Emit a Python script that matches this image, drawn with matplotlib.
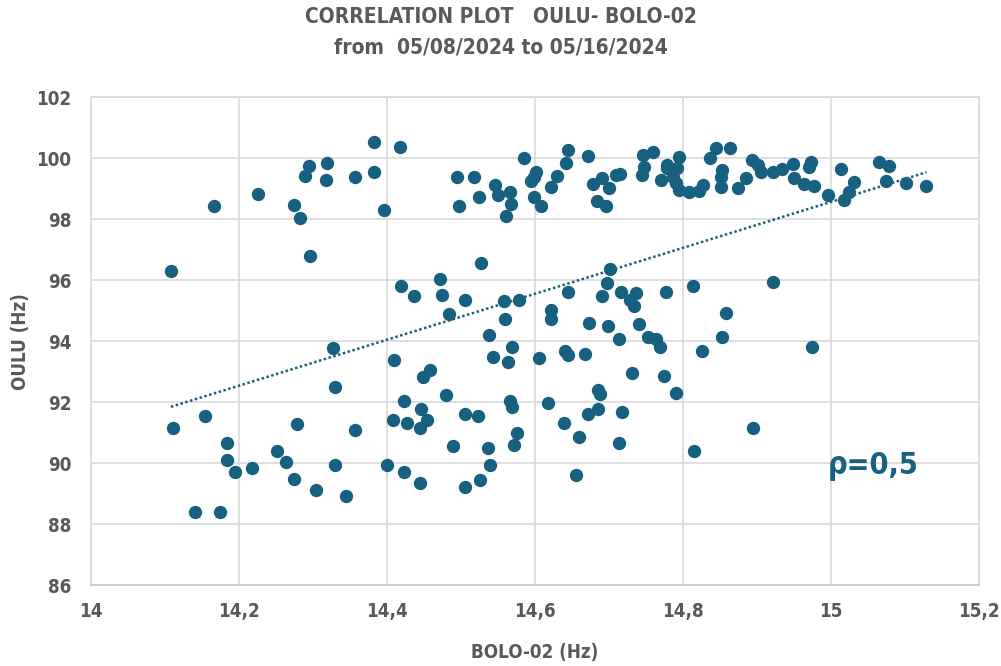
import numpy as np
import matplotlib
matplotlib.use("Agg")
import matplotlib.pyplot as plt
from matplotlib.ticker import FuncFormatter

# BOLO-02 frequency (Hz)
bolo = [
    14.108, 14.166, 14.226, 14.275, 14.282, 14.289, 14.294, 14.296, 14.317, 14.319,
    14.357, 14.382, 14.383, 14.396, 14.417, 14.494, 14.518, 14.497, 14.524, 14.546,
    14.550, 14.566, 14.567, 14.561, 14.585, 14.602, 14.598, 14.594, 14.599, 14.608,
    14.622, 14.630, 14.642, 14.645, 14.671, 14.679, 14.690, 14.700, 14.684, 14.696,
    14.709, 14.715, 14.746, 14.760, 14.747, 14.745, 14.778, 14.779, 14.794, 14.792,
    14.770, 14.787, 14.790, 14.794, 14.808, 14.821, 14.827, 14.837, 14.844, 14.863,
    14.853, 14.852, 14.852, 14.874, 14.885, 14.893, 14.902, 14.905, 14.922, 14.934,
    14.949, 14.950, 14.963, 14.977, 14.970, 14.973, 14.996, 15.013, 15.031, 15.025,
    15.017, 15.065, 15.078, 15.074, 15.102, 15.129, 14.527, 14.419, 14.436, 14.472,
    14.475, 14.484, 14.506, 14.558, 14.579, 14.559, 14.538, 14.621, 14.621, 14.644,
    14.673, 14.699, 14.691, 14.697, 14.702, 14.716, 14.737, 14.729, 14.734, 14.741,
    14.777, 14.714, 14.753, 14.763, 14.769, 14.813, 14.921, 14.858, 14.853, 14.826,
    14.975, 14.790, 14.894, 14.815, 14.569, 14.543, 14.564, 14.605, 14.409, 14.641,
    14.644, 14.668, 14.731, 14.775, 14.449, 14.458, 14.480, 14.423, 14.446, 14.454,
    14.445, 14.408, 14.427, 14.506, 14.523, 14.566, 14.569, 14.576, 14.571, 14.537,
    14.539, 14.489, 14.400, 14.423, 14.445, 14.506, 14.526, 14.617, 14.639, 14.659,
    14.671, 14.685, 14.685, 14.688, 14.718, 14.714, 14.656, 14.327, 14.330, 14.111,
    14.154, 14.184, 14.184, 14.195, 14.218, 14.252, 14.264, 14.275, 14.278, 14.304,
    14.330, 14.345, 14.357, 14.140, 14.174,
]

# OULU frequency (Hz)
oulu = [
    96.30, 98.43, 98.83, 98.46, 98.04, 99.41, 99.76, 96.81, 99.29, 99.84,
    99.38, 100.54, 99.55, 98.30, 100.38, 99.38, 99.38, 98.43, 98.72, 99.13,
    98.80, 98.90, 98.50, 98.12, 100.01, 99.56, 99.40, 99.24, 98.73, 98.42,
    99.05, 99.42, 99.84, 100.26, 100.09, 99.15, 99.34, 99.01, 98.60, 98.43,
    99.45, 99.48, 100.11, 100.22, 99.70, 99.45, 99.78, 99.67, 100.05, 99.67,
    99.29, 99.40, 99.18, 98.96, 98.90, 98.93, 99.12, 100.00, 100.33, 100.33,
    99.62, 99.40, 99.07, 99.02, 99.34, 99.94, 99.78, 99.56, 99.54, 99.64,
    99.80, 99.34, 99.15, 99.09, 99.72, 99.87, 98.80, 99.64, 99.23, 98.90,
    98.63, 99.87, 99.75, 99.27, 99.20, 99.08, 96.56, 95.80, 95.48, 96.05,
    95.52, 94.90, 95.34, 95.31, 95.35, 94.72, 94.21, 95.03, 94.72, 95.61,
    94.60, 94.51, 95.48, 95.92, 96.36, 95.61, 95.58, 95.35, 95.16, 94.56,
    95.61, 94.08, 94.14, 94.06, 93.82, 95.81, 95.93, 94.94, 94.15, 93.68,
    93.82, 92.32, 91.17, 90.41, 93.82, 93.48, 93.31, 93.44, 93.40, 93.68,
    93.55, 93.57, 92.95, 92.86, 92.84, 93.06, 92.24, 92.03, 91.78, 91.42,
    91.15, 91.42, 91.31, 91.61, 91.56, 92.04, 91.84, 90.98, 90.60, 90.49,
    89.94, 90.57, 89.95, 89.70, 89.36, 89.21, 89.45, 91.99, 91.31, 90.87,
    91.61, 91.78, 92.40, 92.27, 91.69, 90.66, 89.62, 93.77, 92.51, 91.15,
    91.56, 90.66, 90.11, 89.70, 89.84, 90.41, 90.03, 89.50, 91.28, 89.12,
    89.95, 88.93, 91.08, 88.41, 88.41,
]

x_ticks = [14.0, 14.2, 14.4, 14.6, 14.8, 15.0, 15.2]
y_ticks = [86, 88, 90, 92, 94, 96, 98, 100, 102]

dot_color = "#17607f"
text_gray = "#595959"
grid_gray = "#d9d9d9"

plt.rcParams["font.family"] = ["DejaVu Sans"]
plt.rcParams["font.stretch"] = "condensed"

x = np.array(bolo)
y = np.array(oulu)

fig = plt.figure(figsize=(10.01, 6.66), dpi=100)
ax = fig.add_axes([0.0909, 0.1212, 0.8871, 0.7327])

ax.scatter(x, y, s=92, color=dot_color, zorder=3, linewidths=0)

# linear trend line over the data range
slope, intercept = np.polyfit(x, y, 1)
xt = np.array([x.min(), x.max()])
ax.plot(xt, slope * xt + intercept, linestyle=(0, (1, 1)), color=dot_color,
        linewidth=1.8, zorder=2)

ax.set_xlim(14.0, 15.2)
ax.set_ylim(86, 102)
ax.set_xticks(x_ticks)
ax.set_yticks(y_ticks)
ax.xaxis.set_major_formatter(FuncFormatter(lambda v, p: f"{v:g}".replace(".", ",")))
ax.grid(True, color=grid_gray, linewidth=1.2, zorder=0)
ax.set_axisbelow(True)
for side in ["left", "right", "top"]:
    ax.spines[side].set_color(grid_gray)
    ax.spines[side].set_linewidth(1.2)
ax.spines["bottom"].set_color("#c8c8c8")
ax.spines["bottom"].set_linewidth(1.2)

ax.tick_params(axis="both", length=0, labelsize=13.5, labelcolor=text_gray)
ax.tick_params(axis="y", pad=14)
ax.tick_params(axis="x", pad=12)
for lab in ax.get_xticklabels() + ax.get_yticklabels():
    lab.set_fontweight("bold")

ax.set_xlabel("BOLO-02 (Hz)", fontsize=13.5, fontweight="bold", color=text_gray)
ax.set_ylabel("OULU (Hz)", fontsize=13.5, fontweight="bold", color=text_gray)
ax.xaxis.set_label_coords(0.5, -0.118)
ax.yaxis.set_label_coords(-0.069, 0.5)

fig.text(0.5, 0.99, "CORRELATION PLOT   OULU- BOLO-02", ha="center", va="top",
         fontsize=15, fontweight="bold", color=text_gray)
fig.text(0.5, 0.943, "from  05/08/2024 to 05/16/2024", ha="center", va="top",
         fontsize=15, fontweight="bold", color=text_gray)

ax.text(14.995, 89.9, "ρ=0,5", ha="left", va="center", fontsize=22,
        fontweight="bold", color=dot_color)

fig.savefig("out.png", dpi=100)
